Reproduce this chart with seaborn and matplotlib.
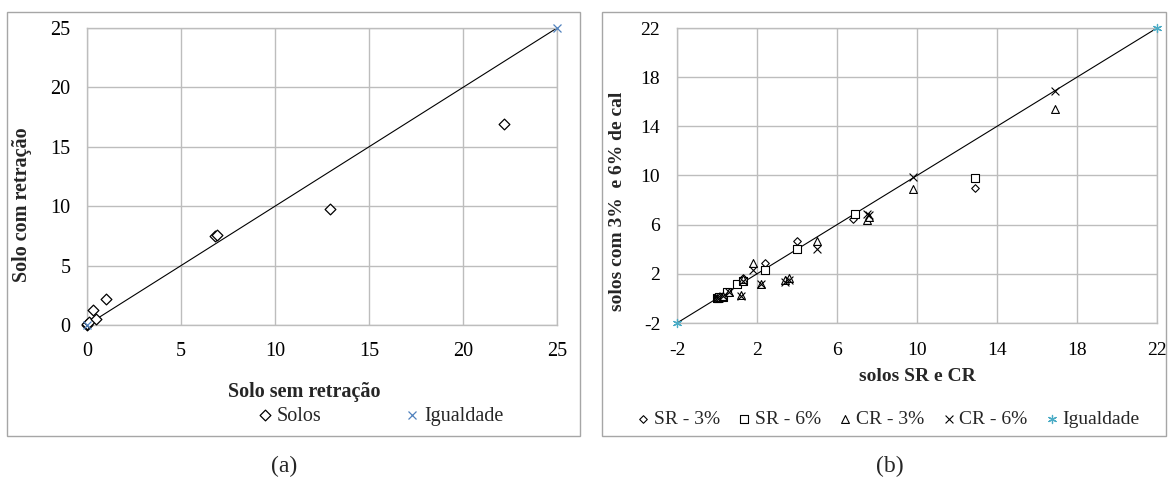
import matplotlib.pyplot as plt
import seaborn as sns
from matplotlib.patches import Rectangle

# (a) solo sem retração vs solo com retração
solos_x = [0.0, 0.0, 0.1, 0.3, 0.5, 1.0, 6.8, 6.9, 12.9, 22.2]
solos_y = [0.0, 0.1, 0.25, 1.25, 0.5, 2.2, 7.5, 7.6, 9.8, 16.9]
igual_a = [0, 25]

# (b) solos SR e CR vs solos com 3% e 6% de cal
sr3_x = [0.0, 0.05, 0.1, 0.3, 0.5, 1.0, 1.3, 2.4, 4.0, 6.8, 12.9]
sr3_y = [0.0, 0.0, 0.1, 0.2, 0.5, 1.2, 1.7, 2.9, 4.7, 6.5, 9.0]
sr6_x = [0.0, 0.05, 0.1, 0.3, 0.5, 1.0, 1.3, 2.4, 4.0, 6.9, 12.9]
sr6_y = [0.0, 0.05, 0.1, 0.1, 0.5, 1.2, 1.4, 2.35, 4.0, 6.9, 9.8]
cr3_x = [0.0, 0.1, 0.3, 0.6, 1.2, 1.3, 1.8, 2.2, 3.4, 3.6, 5.0, 7.5, 7.6, 9.8, 16.9]
cr3_y = [0.0, 0.1, 0.2, 0.5, 0.3, 1.6, 2.85, 1.2, 1.5, 1.7, 4.7, 6.4, 6.6, 8.9, 15.4]
cr6_x = [0.0, 0.1, 0.3, 0.6, 1.2, 1.3, 1.8, 2.2, 3.4, 3.6, 5.0, 7.5, 7.6, 9.8, 16.9]
cr6_y = [0.0, 0.05, 0.2, 0.5, 0.2, 1.4, 2.35, 1.2, 1.3, 1.5, 4.0, 6.9, 6.8, 9.85, 16.9]
igual_b = [-2, 22]

W, H = 1170, 490
GRID = '#bdbdbd'


def rect(x0, y0, x1, y1):
    return [x0 / W, 1 - y1 / H, (x1 - x0) / W, (y1 - y0) / H]


def style_axes(ax, fs, xpad):
    ax.grid(True, color=GRID, lw=1.0)
    ax.set_axisbelow(True)
    for s in ax.spines.values():
        s.set_color(GRID)
        s.set_linewidth(1.0)
    ax.tick_params(length=0, labelsize=fs, colors='black')
    ax.tick_params(axis='y', pad=12)
    ax.tick_params(axis='x', pad=xpad)
    ax.set_xlabel('')
    ax.set_ylabel('')


def main():
    sns.set_theme(style='white')
    plt.rcParams['font.family'] = ['Liberation Serif', 'DejaVu Serif']
    plt.rcParams['axes.unicode_minus'] = False

    fig = plt.figure(figsize=(11.7, 4.9), dpi=100)
    for x0, y0, x1, y1 in [(7, 12, 580, 436), (602, 12, 1166, 436)]:
        fig.patches.append(Rectangle((x0 / W, 1 - y1 / H), (x1 - x0) / W, (y1 - y0) / H,
                                     transform=fig.transFigure, fill=False,
                                     ec='#a6a6a6', lw=1.0))

    # ---- (a)
    ax1 = fig.add_axes(rect(87, 28, 557, 325))
    sns.lineplot(x=igual_a, y=igual_a, ax=ax1, color='black', lw=0.8, zorder=2)
    sns.scatterplot(x=solos_x, y=solos_y, ax=ax1, marker='D', s=30,
                    facecolor='white', edgecolor='black', linewidth=0.9,
                    label='Solos', zorder=3)
    sns.scatterplot(x=igual_a, y=igual_a, ax=ax1, marker='x', s=33,
                    color='#4f81bd', linewidth=0.9, label='Igualdade', zorder=4)
    ax1.set_xlim(0, 25)
    ax1.set_ylim(0, 25)
    ax1.set_xticks(range(0, 26, 5))
    ax1.set_yticks(range(0, 26, 5))
    style_axes(ax1, 14.5, 12)
    for c in ax1.collections:
        c.set_clip_on(False)
    h, l = ax1.get_legend_handles_labels()
    ax1.legend(h, l, loc='center', bbox_to_anchor=(381 / W, 1 - 416 / H),
               bbox_transform=fig.transFigure, ncol=2, frameon=False,
               fontsize=14.5, handlelength=0.6, handletextpad=0.3,
               columnspacing=4.2, borderpad=0)
    fig.text(304 / W, 1 - 392 / H, 'Solo sem retração', ha='center', va='center',
             fontsize=14.5, fontweight='bold')
    fig.text(22 / W, 1 - 205 / H, 'Solo com retração', ha='center', va='center',
             rotation=90, fontsize=14.5, fontweight='bold')

    # ---- (b)
    ax2 = fig.add_axes(rect(677, 28, 1157, 323))
    sns.lineplot(x=igual_b, y=igual_b, ax=ax2, color='black', lw=0.8, zorder=2)
    sns.scatterplot(x=sr3_x, y=sr3_y, ax=ax2, marker='D', s=15,
                    facecolor='white', edgecolor='black', linewidth=0.8,
                    label='SR - 3%', zorder=3)
    sns.scatterplot(x=sr6_x, y=sr6_y, ax=ax2, marker='s', s=27,
                    facecolor='white', edgecolor='black', linewidth=0.8,
                    label='SR - 6%', zorder=3)
    sns.scatterplot(x=cr3_x, y=cr3_y, ax=ax2, marker='^', s=32,
                    facecolor='white', edgecolor='black', linewidth=0.8,
                    label='CR - 3%', zorder=3)
    sns.scatterplot(x=cr6_x, y=cr6_y, ax=ax2, marker='x', s=32,
                    color='black', linewidth=0.8, label='CR - 6%', zorder=3)
    sns.scatterplot(x=igual_b, y=igual_b, ax=ax2, marker=(6, 2, 0), s=34,
                    color='#4bacc6', linewidth=0.9, label='Igualdade', zorder=4)
    ax2.set_xlim(-2, 22)
    ax2.set_ylim(-2, 22)
    ax2.set_xticks(range(-2, 23, 4))
    ax2.set_yticks(range(-2, 23, 4))
    style_axes(ax2, 14, 13.5)
    for c in ax2.collections:
        c.set_clip_on(False)
    h, l = ax2.get_legend_handles_labels()
    ax2.legend(h, l, loc='center', bbox_to_anchor=(889 / W, 1 - 419 / H),
               bbox_transform=fig.transFigure, ncol=5, frameon=False,
               fontsize=14, handlelength=0.5, handletextpad=0.3,
               columnspacing=1.0, borderpad=0)
    fig.text(917 / W, 1 - 376 / H, 'solos SR e CR', ha='center', va='center',
             fontsize=14, fontweight='bold')
    fig.text(618 / W, 1 - 201 / H, 'solos com 3%  e 6% de cal', ha='center',
             va='center', rotation=90, fontsize=14, fontweight='bold')

    fig.text(284 / W, 1 - 466 / H, '(a)', ha='center', va='center', fontsize=17)
    fig.text(890 / W, 1 - 466 / H, '(b)', ha='center', va='center', fontsize=17)

    fig.savefig('out.png', dpi=100)


if __name__ == '__main__':
    main()
